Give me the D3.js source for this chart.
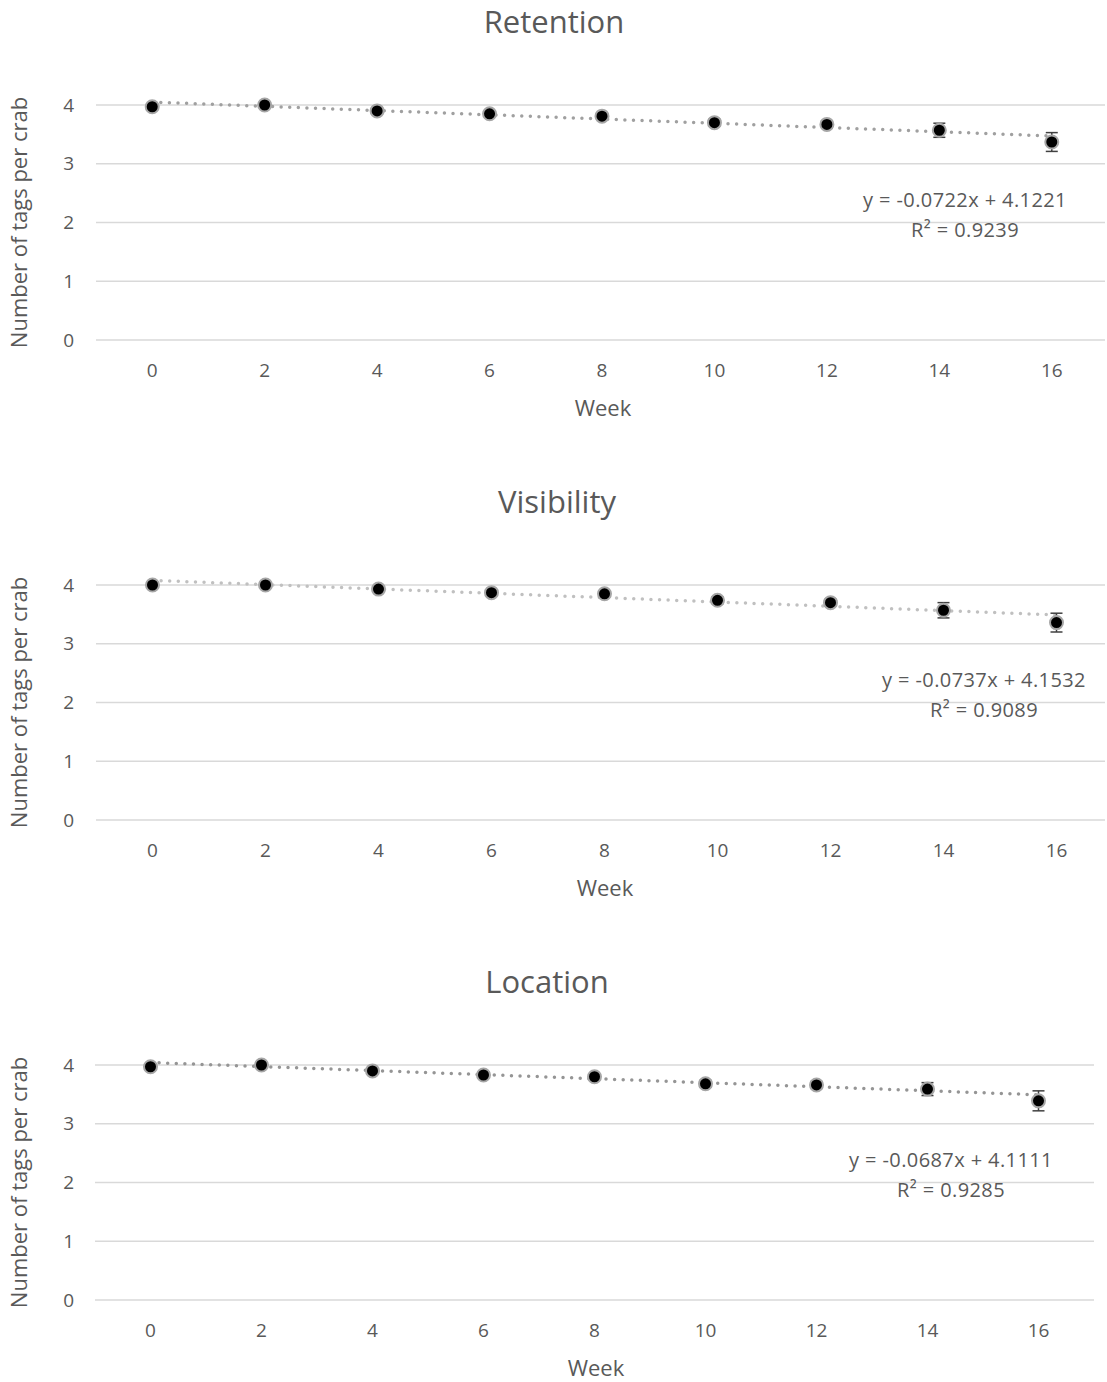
<!DOCTYPE html>
<html>
<head>
<meta charset="utf-8">
<script src="https://cdn.jsdelivr.net/npm/d3@7"></script>
<style>
  body { margin: 0; background: #fff; }
  svg text { font-family: "Open Sans", Carlito, Calibri, sans-serif; fill: #595959; }
</style>
</head>
<body>
<svg id="chart" width="1107" height="1382"></svg>
<script>
// tick labels / categories
const weeks = [0, 2, 4, 6, 8, 10, 12, 14, 16];
const yTicks = [0, 1, 2, 3, 4];

// mean tags per crab
const retention = [3.97, 4.0, 3.90, 3.85, 3.81, 3.70, 3.67, 3.57, 3.37];
const retentionErr = [0.03, 0.02, 0.04, 0.04, 0.04, 0.06, 0.06, 0.12, 0.16];
const visibility = [4.0, 4.0, 3.93, 3.87, 3.85, 3.74, 3.70, 3.57, 3.36];
const visibilityErr = [0.02, 0.02, 0.04, 0.05, 0.05, 0.06, 0.06, 0.13, 0.16];
const location_ = [3.97, 4.0, 3.90, 3.83, 3.80, 3.68, 3.66, 3.59, 3.39];
const locationErr = [0.03, 0.02, 0.04, 0.05, 0.05, 0.06, 0.06, 0.11, 0.17];

// trendline equations shown on the chart
const slopes = [-0.0722, -0.0737, -0.0687];
const intercepts = [4.1221, 4.1532, 4.1111];
const rSquared = ["0.9239", "0.9089", "0.9285"];
const titles = ["Retention", "Visibility", "Location"];

const svg = d3.select('#chart');

const panels = [
    { title: titles[0], values: retention, err: retentionErr, top: 0, left: 96, right: 1108, titleX: 554, weekX: 603, eqX: 965, trendColor: '#a0a0a0' },
    { title: titles[1], values: visibility, err: visibilityErr, top: 480, left: 96, right: 1113, titleX: 557, weekX: 605, eqX: 984, trendColor: '#c0c0c0' },
    { title: titles[2], values: location_, err: locationErr, top: 960, left: 95, right: 1094, titleX: 547, weekX: 596, eqX: 951, trendColor: '#959595' }
];

panels.forEach((p, i) => {
    const g = svg.append('g').attr('transform', `translate(0,${p.top})`);

    const x = d3.scalePoint()
        .domain(weeks)
        .range([p.left, p.right])
        .padding(0.5);

    const y = d3.scaleLinear()
        .domain([0, 4])
        .range([340, 105]);

    // trendline uses the Excel index 1..9
    const xi = d3.scaleLinear().domain([1, weeks.length]).range([x(weeks[0]), x(weeks[weeks.length - 1])]);

    g.append('text')
        .attr('x', p.titleX)
        .attr('y', 22)
        .attr('dy', '0.35em')
        .attr('text-anchor', 'middle')
        .style('font-size', '31px')
        .text(p.title);

    // gridlines
    g.selectAll('.grid')
        .data(yTicks)
        .enter()
        .append('line')
        .attr('x1', p.left)
        .attr('x2', Math.min(p.right, 1105))
        .attr('y1', d => y(d))
        .attr('y2', d => y(d))
        .attr('stroke', '#d9d9d9')
        .attr('stroke-width', 1.5);

    g.selectAll('.ytick')
        .data(yTicks)
        .enter()
        .append('text')
        .attr('x', 74)
        .attr('y', d => y(d))
        .attr('dy', '0.35em')
        .attr('text-anchor', 'end')
        .style('font-size', '19px')
        .text(d => d);

    g.selectAll('.xtick')
        .data(weeks)
        .enter()
        .append('text')
        .attr('x', d => x(d))
        .attr('y', 370)
        .attr('dy', '0.35em')
        .attr('text-anchor', 'middle')
        .style('font-size', '19px')
        .text(d => d);

    g.append('text')
        .attr('x', p.weekX)
        .attr('y', 408)
        .attr('dy', '0.35em')
        .attr('text-anchor', 'middle')
        .style('font-size', '22px')
        .text('Week');

    g.append('text')
        .attr('transform', `translate(19,${(y(0) + y(4)) / 2}) rotate(-90)`)
        .attr('dy', '0.35em')
        .attr('text-anchor', 'middle')
        .style('font-size', '22px')
        .text('Number of tags per crab');

    // dotted trendline
    g.append('line')
        .attr('x1', xi(1))
        .attr('x2', xi(weeks.length))
        .attr('y1', y(intercepts[i] + slopes[i] * 1))
        .attr('y2', y(intercepts[i] + slopes[i] * weeks.length))
        .attr('stroke', p.trendColor)
        .attr('stroke-width', 3.5)
        .attr('stroke-linecap', 'round')
        .attr('stroke-dasharray', '0,8.6');

    const pts = weeks.map((w, k) => ({ w, v: p.values[k], e: p.err[k] }));

    // error bars
    const eb = g.selectAll('.err').data(pts).enter().append('g');
    eb.append('line')
        .attr('x1', d => x(d.w)).attr('x2', d => x(d.w))
        .attr('y1', d => y(d.v - d.e)).attr('y2', d => y(d.v + d.e))
        .attr('stroke', '#404040').attr('stroke-width', 1.5);
    [-1, 1].forEach(s => {
        eb.append('line')
            .attr('x1', d => x(d.w) - 6).attr('x2', d => x(d.w) + 6)
            .attr('y1', d => y(d.v + s * d.e)).attr('y2', d => y(d.v + s * d.e))
            .attr('stroke', '#404040').attr('stroke-width', 1.5);
    });

    g.selectAll('.dot')
        .data(pts)
        .enter()
        .append('circle')
        .attr('cx', d => x(d.w))
        .attr('cy', d => y(d.v))
        .attr('r', 6.5)
        .attr('fill', '#000')
        .attr('stroke', '#a6a6a6')
        .attr('stroke-width', 2);

    const eq = g.append('text')
        .attr('text-anchor', 'middle')
        .style('font-size', '20px')
        .style('letter-spacing', '0.4px');
    eq.append('tspan')
        .attr('x', p.eqX)
        .attr('y', 207)
        .text(`y = ${slopes[i]}x + ${intercepts[i]}`);
    eq.append('tspan')
        .attr('x', p.eqX)
        .attr('y', 237)
        .text(`R² = ${rSquared[i]}`);
});
</script>
</body>
</html>
